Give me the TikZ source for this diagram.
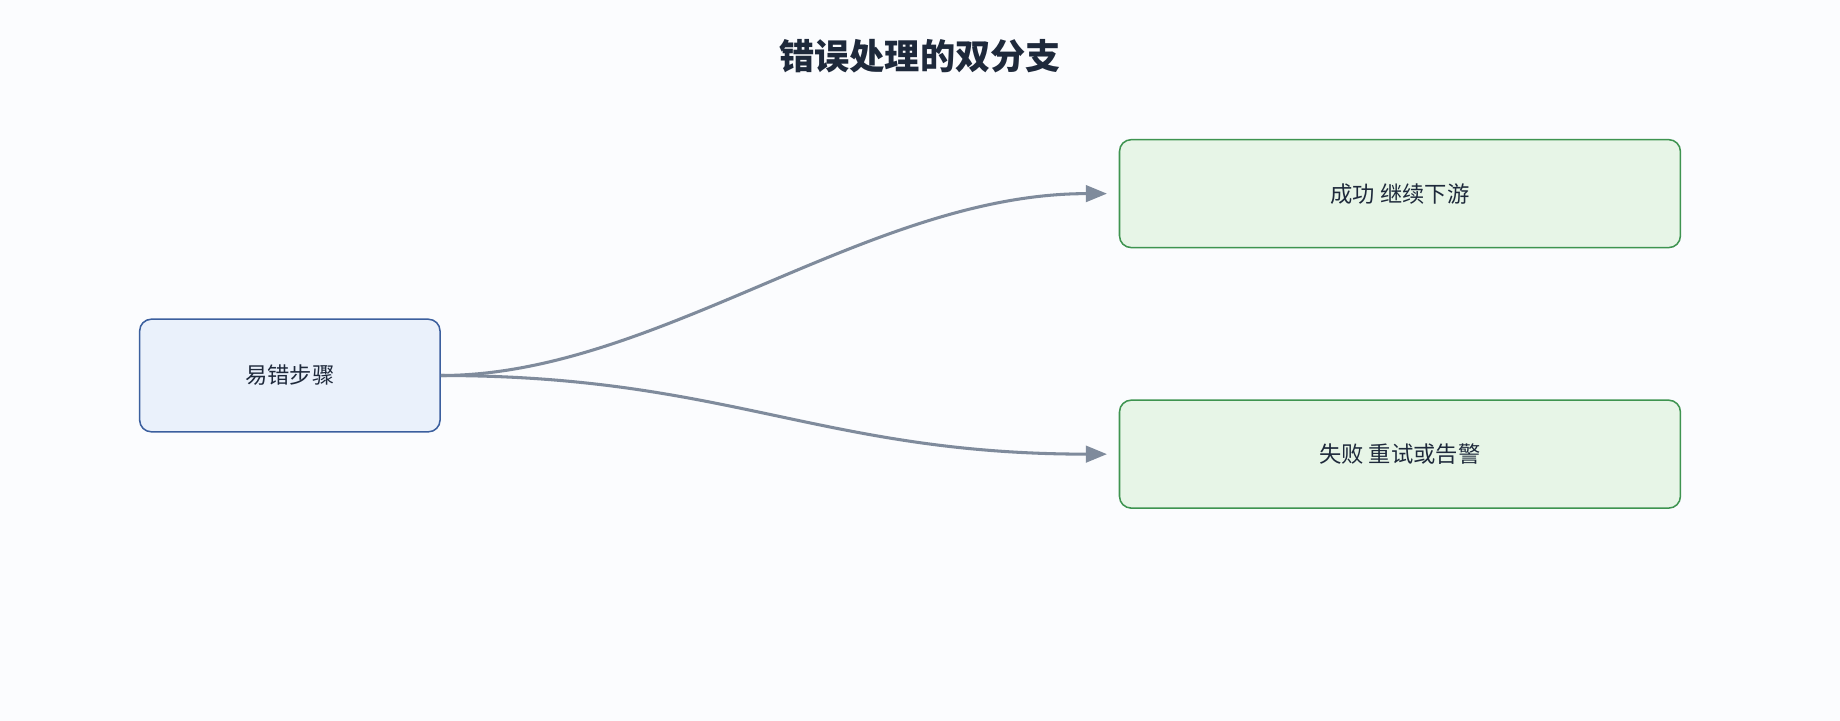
\documentclass[tikz,border=0pt]{standalone}
\usepackage{fontspec}
\setmainfont{Noto Sans CJK SC}
\usetikzlibrary{arrows.meta}
\definecolor{bg}{HTML}{FBFCFE}
\definecolor{ink}{HTML}{1E293B}
\definecolor{bluef}{HTML}{EAF1FB}
\definecolor{blued}{HTML}{3B5F9E}
\definecolor{greenf}{HTML}{E7F5E7}
\definecolor{greend}{HTML}{3E9450}
\definecolor{edge}{HTML}{7F8B9C}
\begin{document}
\begin{tikzpicture}[x=1pt,y=-1pt,
 box/.style={draw,line width=1.3pt,rounded corners=10pt,font=\fontsize{19}{22}\selectfont,text=ink},
 conn/.style={draw=edge,line width=2.6pt,-{Triangle[length=18pt,width=14pt]}}]
\fill[bg] (0,0) rectangle (1568,614);
\useasboundingbox (0,0) rectangle (1568,614);
\node[font=\fontsize{30}{34}\selectfont\bfseries,text=ink] (title) at (784,48) {错误处理的双分支};
\node[box,fill=bluef,draw=blued,minimum width=256pt,minimum height=96pt] (a) at (247,320) {易错步骤};
\node[box,fill=greenf,draw=greend,minimum width=478pt,minimum height=92pt] (b) at (1193,165) {成功 继续下游};
\node[box,fill=greenf,draw=greend,minimum width=478pt,minimum height=92pt] (c) at (1193,387) {失败 重试或告警};
\coordinate (bt) at ([xshift=-10pt]b.west);
\coordinate (ct) at ([xshift=-10pt]c.west);
\draw[conn] (a.east) .. controls (560,320) and (740,165) .. (bt);
\draw[conn] (a.east) .. controls (620,320) and (700,387) .. (ct);
\end{tikzpicture}
\end{document}
